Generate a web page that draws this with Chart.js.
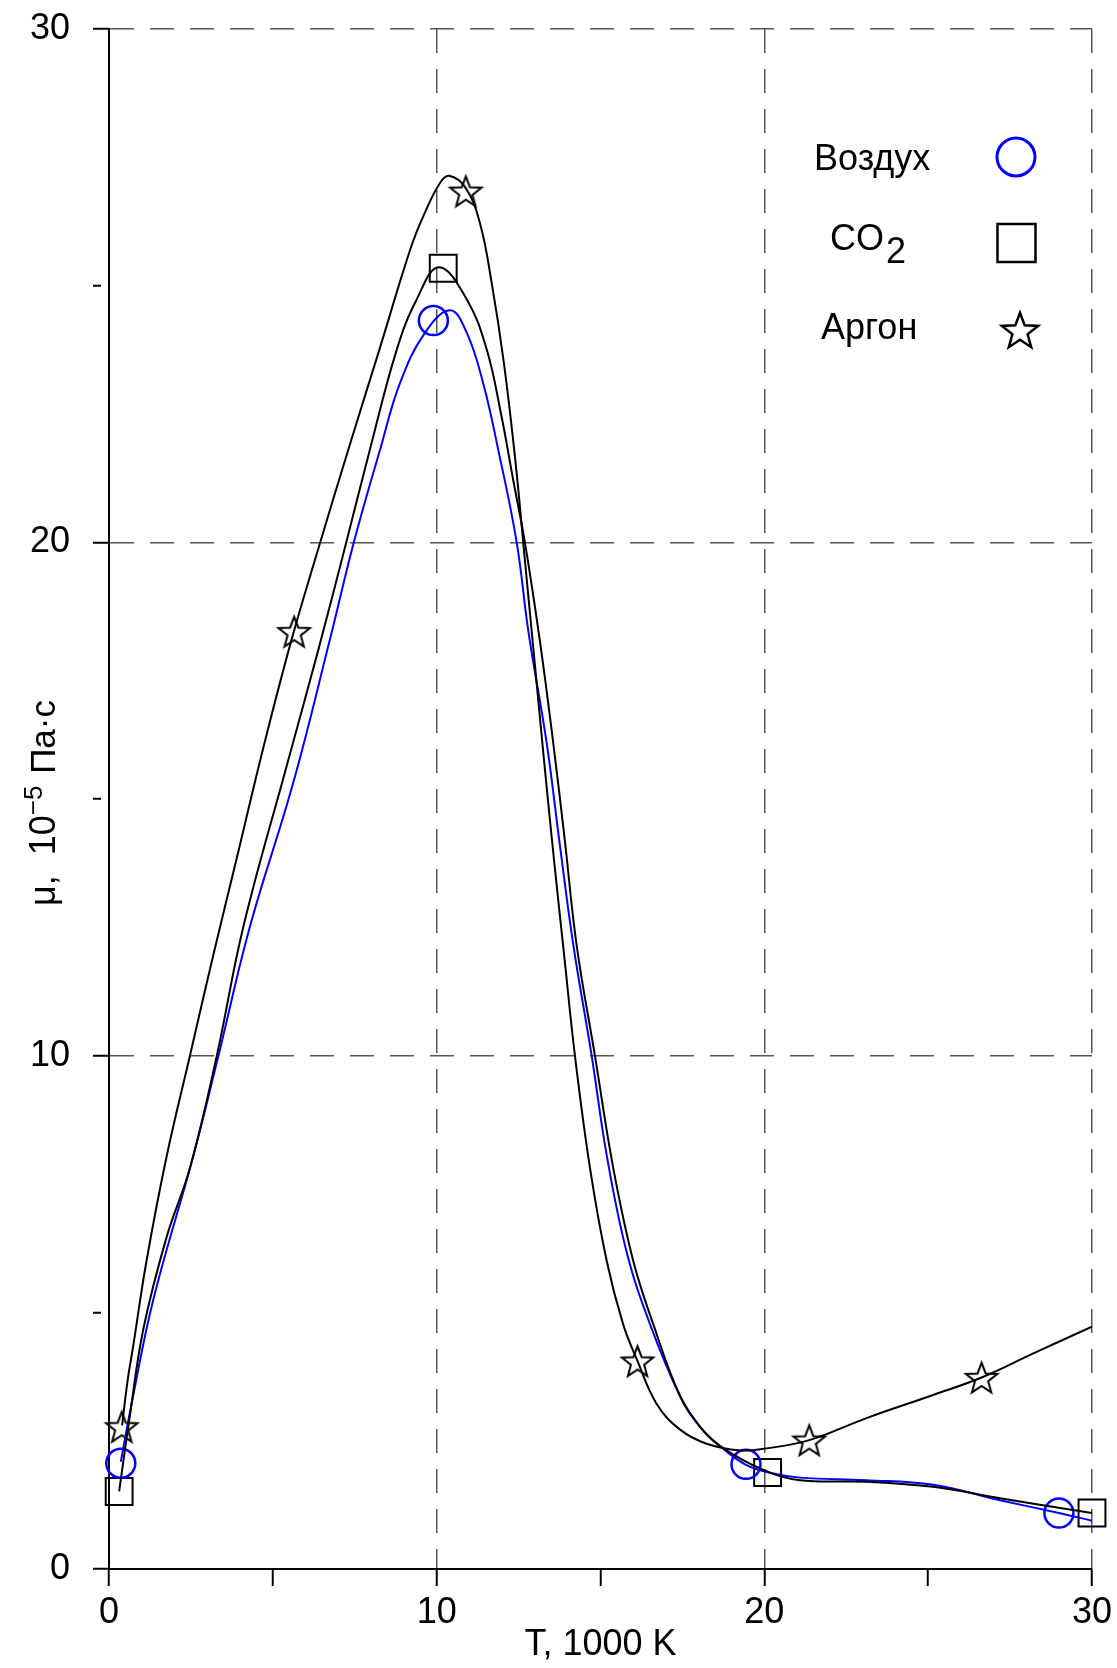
<!DOCTYPE html>
<html>
<head>
<meta charset="utf-8">
<script src="https://cdn.jsdelivr.net/npm/chart.js@4.4.1/dist/chart.umd.min.js"></script>
<style>
  html, body { margin: 0; padding: 0; background: #fff; }
  #wrap { width: 1117px; height: 1668px; }
</style>
</head>
<body>
<div id="wrap"><canvas id="myChart" width="1117" height="1668"></canvas></div>
<script>
// markers (measured points)
const airMarkX = [0.36, 9.90, 19.44, 28.99];
const airMarkY = [2.06, 24.32, 2.04, 1.09];
const co2MarkX = [0.31, 10.20, 20.10, 30.0];
const co2MarkY = [1.51, 25.34, 1.88, 1.09];
const arMarkX = [0.39, 5.65, 10.89, 16.13, 21.37, 26.63];
const arMarkY = [2.77, 18.26, 26.84, 4.05, 2.51, 3.73];

// fitted curves
const arCurveX = [0.40, 0.57, 0.74, 1.15, 1.76, 2.47, 3.18, 3.90, 4.71, 5.57, 6.39, 7.30, 8.25, 9.19, 9.59, 10.10, 10.38,
  10.89, 11.32, 11.68, 12.05, 12.40, 12.70, 13.00, 13.30, 13.60, 13.90, 14.22, 14.68, 15.19, 15.69, 16.13, 16.71,
  17.42, 18.24, 19.26, 20.07, 21.37, 23.12, 25.15, 26.63, 28.21, 30.0];
const arCurveY = [2.80, 3.68, 4.35, 6.02, 8.04, 10.00, 11.95, 13.85, 16.00, 18.10, 19.88, 21.80, 23.75, 25.70, 26.35, 27.00, 27.14,
  26.90, 26.22, 25.05, 23.50, 21.60, 19.60, 17.60, 15.60, 13.70, 11.90, 10.00, 7.81, 6.00, 4.77, 4.05, 3.22,
  2.72, 2.44, 2.31, 2.35, 2.51, 2.94, 3.39, 3.73, 4.20, 4.72];

const co2CurveX = [0.31, 0.64, 1.05, 1.76, 2.47, 3.29, 4.10, 5.42, 6.39, 7.25, 7.96, 8.78, 9.39, 10.07,
  10.92, 11.53, 11.98, 12.34, 12.69, 13.15, 13.56, 13.91, 14.27, 14.83, 15.39, 16.00, 16.61, 17.42, 18.04,
  18.64, 19.97, 21.09, 23.12, 25.15, 27.19, 30.0];
const co2CurveY = [1.51, 3.00, 4.68, 6.47, 7.81, 10.00, 12.51, 15.64, 17.91, 20.02, 21.80, 23.75, 24.73, 25.36,
  24.73, 23.75, 22.45, 21.20, 20.01, 18.08, 16.08, 14.20, 12.16, 10.00, 7.81, 6.00, 4.77, 3.38, 2.77,
  2.40, 1.93, 1.73, 1.70, 1.60, 1.38, 1.09];

const airCurveX = [0.36, 0.69, 1.35, 2.57, 3.34, 4.30, 5.62, 6.74, 7.48, 8.27, 8.88, 9.64, 10.41,
  10.92, 11.42, 11.88, 12.44, 12.80, 13.36, 13.76, 14.17, 14.73, 15.19, 15.80, 16.51, 17.42, 18.04,
  18.64, 19.44, 20.27, 21.09, 23.12, 25.15, 27.19, 28.99, 30.0];
const airCurveY = [2.09, 3.22, 5.24, 8.04, 10.00, 12.51, 15.31, 18.10, 20.02, 21.80, 23.10, 24.08, 24.52,
  24.08, 23.10, 21.80, 20.01, 18.26, 16.08, 14.10, 12.16, 10.00, 8.06, 6.17, 4.77, 3.38, 2.77,
  2.40, 2.03, 1.86, 1.78, 1.73, 1.64, 1.34, 1.09, 0.94];

const seriesNames = ['Воздух', 'CO', 'Аргон'];
const xTitle = 'T, 1000 K';

const pts = (xs, ys) => xs.map((x, i) => ({x: x, y: ys[i]}));

function makeStar(R, lw) {
  const s = Math.ceil(2 * R + 2 * lw + 4);
  const c = document.createElement('canvas');
  c.width = s; c.height = s;
  const g = c.getContext('2d');
  drawStar(g, s / 2, s / 2 + 0.095 * R, R, lw);
  return c;
}
function drawStar(g, cx, cy, R, lw) {
  const r = R * 0.42;
  g.beginPath();
  for (let k = 0; k < 10; k++) {
    const a = -Math.PI / 2 + k * Math.PI / 5;
    const rr = k % 2 === 0 ? R : r;
    const px = cx + rr * Math.cos(a), py = cy + rr * Math.sin(a);
    if (k === 0) g.moveTo(px, py); else g.lineTo(px, py);
  }
  g.closePath();
  g.lineWidth = lw;
  g.lineJoin = 'miter';
  g.strokeStyle = '#000';
  g.stroke();
}

const FONT = "'Liberation Sans', Arial, sans-serif";
Chart.defaults.font.family = FONT;
Chart.defaults.color = '#000';

const legendAndTitle = {
  id: 'legendAndTitle',
  afterDraw(chart) {
    const ctx = chart.ctx;
    ctx.save();
    ctx.fillStyle = '#000';
    ctx.textBaseline = 'alphabetic';
    ctx.textAlign = 'left';
    ctx.font = '36px ' + FONT;
    // legend texts
    ctx.fillText(seriesNames[0], 814, 170);
    ctx.fillText(seriesNames[1], 830, 250);
    const w = ctx.measureText(seriesNames[1]).width;
    ctx.fillText('2', 830 + w + 2, 263);
    ctx.fillText(seriesNames[2], 821, 339);
    // legend markers
    ctx.beginPath();
    ctx.arc(1016, 157, 19, 0, Math.PI * 2);
    ctx.strokeStyle = '#0000ff';
    ctx.lineWidth = 3;
    ctx.stroke();
    ctx.strokeStyle = '#000';
    ctx.lineWidth = 2.5;
    ctx.strokeRect(997.5, 224, 38, 38);
    drawStar(ctx, 1020, 330 + 0.095 * 19, 19, 2.5);

    // y axis title with superscript
    const parts = [
      {t: 'μ,  10', size: 36, dy: 0},
      {t: '\u22125', size: 26, dy: -13},
      {t: ' Па·с', size: 35, dy: 0}
    ];
    ctx.translate(55, 906);
    ctx.rotate(-Math.PI / 2);
    let x = 0;
    parts.forEach(p => {
      ctx.font = p.size + 'px ' + FONT;
      ctx.fillText(p.t, x, p.dy);
      x += ctx.measureText(p.t).width + (p.dy ? 2 : 0);
    });
    ctx.restore();
  }
};

const major = v => v % 10 === 0;
const curve = (xs, ys, color) => ({
  data: pts(xs, ys), borderColor: color, borderWidth: 2, pointRadius: 0, tension: 0.4, fill: false
});

new Chart(document.getElementById('myChart'), {
  type: 'line',
  data: {
    datasets: [
      curve(arCurveX, arCurveY, '#000'),
      curve(co2CurveX, co2CurveY, '#000'),
      curve(airCurveX, airCurveY, '#0000ff'),
      {data: pts(airMarkX, airMarkY), showLine: false, pointStyle: 'circle', pointRadius: 14.5,
        pointBorderColor: '#0000ff', pointBackgroundColor: 'rgba(0,0,0,0)', pointBorderWidth: 2.5, clip: false},
      {data: pts(co2MarkX, co2MarkY), showLine: false, pointStyle: 'rect', pointRadius: 19,
        pointBorderColor: '#000', pointBackgroundColor: 'rgba(0,0,0,0)', pointBorderWidth: 2, clip: false},
      {data: pts(arMarkX, arMarkY), showLine: false, pointStyle: makeStar(16.5, 2), pointRadius: 17, clip: false}
    ]
  },
  options: {
    responsive: false,
    animation: false,
    events: [],
    layout: {padding: {top: 29, right: 25, left: 0, bottom: 0}},
    plugins: {legend: {display: false}, tooltip: {enabled: false}},
    scales: {
      x: {
        type: 'linear', min: 0, max: 30,
        afterFit(scale) { scale.height = 99; scale.paddingLeft = 0; scale.paddingRight = 0; },
        ticks: {stepSize: 5, autoSkip: false, maxRotation: 0, padding: 5, font: {size: 36}, color: '#000',
          callback: v => major(v) ? String(v) : ''},
        grid: {
          color: c => (c.tick && major(c.tick.value) && c.tick.value > 0) ? '#555' : 'rgba(0,0,0,0)',
          lineWidth: 1.5, tickColor: '#000', tickLength: 17, tickWidth: 2
        },
        border: {display: true, color: '#000', width: 2, dash: [24, 16]},
        title: {display: true, text: xTitle, font: {size: 36}, color: '#000', padding: {top: 0, bottom: 1}}
      },
      y: {
        type: 'linear', min: 0, max: 30,
        afterFit(scale) { scale.width = 109; scale.paddingTop = 0; scale.paddingBottom = 0; },
        ticks: {stepSize: 5, autoSkip: false, padding: 23, font: {size: 36}, color: '#000',
          callback: v => major(v) ? String(v) : ''},
        grid: {
          color: c => (c.tick && major(c.tick.value) && c.tick.value > 0) ? '#555' : 'rgba(0,0,0,0)',
          lineWidth: 1.5, tickColor: '#000', tickLength: 16, tickWidth: 2,
          tickBorderDash: c => (c.tick && major(c.tick.value)) ? [] : [8, 40]
        },
        border: {display: true, color: '#000', width: 2, dash: [24, 16]}
      }
    }
  },
  plugins: [legendAndTitle]
});
</script>
</body>
</html>
